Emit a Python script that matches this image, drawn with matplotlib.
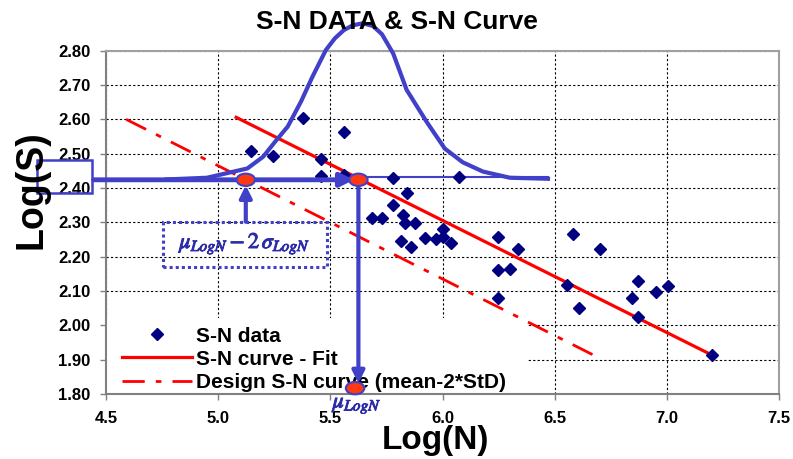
import numpy as np
import matplotlib
matplotlib.use('Agg')
import matplotlib.pyplot as plt
import matplotlib.patheffects as pe
from matplotlib.patches import Rectangle, Ellipse
from matplotlib.lines import Line2D

plt.rcParams['font.family'] = ['Liberation Sans', 'DejaVu Sans']
plt.rcParams['mathtext.fontset'] = 'stix'

# S-N test data (log10 N, log10 S)
data_logN = [5.146, 5.246, 5.38, 5.46, 5.457, 5.562, 5.56, 5.78, 6.075, 5.84,
             5.78, 5.684, 5.73, 5.825, 5.833, 5.877, 5.815, 5.86, 5.922, 5.971,
             6.0, 6.003, 6.038, 6.249, 6.338, 6.58, 6.249, 6.30, 6.554, 6.249,
             6.61, 6.703, 6.87, 6.845, 6.952, 7.007, 6.87, 7.20]
data_logS = [2.508, 2.494, 2.603, 2.484, 2.435, 2.562, 2.437, 2.429, 2.431, 2.386,
             2.352, 2.312, 2.312, 2.321, 2.299, 2.299, 2.247, 2.227, 2.255, 2.251,
             2.28, 2.256, 2.240, 2.256, 2.222, 2.266, 2.161, 2.164, 2.117, 2.079,
             2.051, 2.222, 2.129, 2.079, 2.096, 2.114, 2.023, 1.914]

# fitted and design curves (end points)
fit_logN = [5.08, 7.19]
fit_logS = [2.606, 1.917]
design_logN = [4.59, 6.68]
design_logS = [2.600, 1.911]

# distribution of log N at the reference stress (hand drawn bell)
bell_logN = [4.77, 4.95, 5.05, 5.13, 5.20, 5.26, 5.31, 5.37, 5.42, 5.48, 5.52, 5.56, 5.60,
             5.645, 5.69, 5.73, 5.78, 5.84, 5.93, 6.01, 6.09, 6.18, 6.30, 6.47]
bell_logS = [2.425, 2.430, 2.445, 2.457, 2.491, 2.540, 2.579, 2.653, 2.724, 2.802, 2.836, 2.860,
             2.874, 2.880, 2.872, 2.848, 2.792, 2.686, 2.592, 2.515, 2.475, 2.448, 2.430, 2.427]

ref_logS = 2.424
mu_logN = 5.625
mu_minus_2sd = 5.123

xticks = [4.5, 5.0, 5.5, 6.0, 6.5, 7.0, 7.5]
yticks = [1.8, 1.9, 2.0, 2.1, 2.2, 2.3, 2.4, 2.5, 2.6, 2.7, 2.8]

blue = '#4040C8'
navy = '#000080'
red = '#FF0000'
orange = '#FF3A10'
txt_blue = '#2C2CA8'

fig = plt.figure(figsize=(7.93, 4.59), dpi=100)
ax = fig.add_axes([0.1337, 0.1416, 0.8487, 0.7479])
ax.set_xlim(4.5, 7.5)
ax.set_ylim(1.8, 2.8)
ax.set_xticks(xticks)
ax.set_xticklabels(['%.1f' % v for v in xticks], fontweight='bold')
ax.set_yticks(yticks)
ax.set_yticklabels(['%.2f' % v for v in yticks], fontweight='bold')
ax.tick_params(direction='out', length=4, width=1, color='#808080', labelsize=12)
ax.tick_params(axis='x', pad=8)
ax.tick_params(axis='y', pad=7)
ax.set_axisbelow(True)
ax.grid(True, color='black', linestyle=(0, (2, 2)), linewidth=0.8)
for s in ['left', 'bottom']:
    ax.spines[s].set_color('#808080')
    ax.spines[s].set_linewidth(1.5)
for s in ['top', 'right']:
    ax.spines[s].set_color('#a0a0a0')
    ax.spines[s].set_linewidth(1.5)

# white area behind legend hides the grid
ax.add_patch(Rectangle((0, 0), 0.626, 0.221, transform=ax.transAxes,
                       facecolor='white', edgecolor='none', zorder=1))

ax.plot(design_logN, design_logS, color=red, lw=2, ls=(0, (8, 4, 2, 4)), zorder=2)
ax.plot(fit_logN, fit_logS, color=red, lw=2.3, zorder=2)
ax.plot(bell_logN, bell_logS, color=blue, lw=3, zorder=3, clip_on=False)
ax.plot([mu_logN, bell_logN[-1]], [ref_logS + 0.008, ref_logS + 0.008], color=blue, lw=1.5, zorder=3)
ax.plot(data_logN, data_logS, 'D', color=navy, ms=6, ls='none', zorder=4)

# arrows
ax.annotate('', xy=(mu_logN - 0.02, ref_logS), xytext=(4.445, ref_logS),
            arrowprops=dict(arrowstyle='-|>', color=blue, lw=3.5, mutation_scale=20,
                            shrinkA=0, shrinkB=0),
            annotation_clip=False, zorder=6)
ax.annotate('', xy=(mu_logN, 1.831), xytext=(mu_logN, ref_logS - 0.01),
            arrowprops=dict(arrowstyle='-|>', color=blue, lw=3, mutation_scale=18,
                            shrinkA=0, shrinkB=0),
            annotation_clip=False, zorder=7)
ax.annotate('', xy=(mu_minus_2sd, ref_logS - 0.016), xytext=(mu_minus_2sd, 2.302),
            arrowprops=dict(arrowstyle='-|>', color=blue, lw=3, mutation_scale=18,
                            shrinkA=0, shrinkB=0),
            annotation_clip=False, zorder=6)

for xm, ym in [(mu_logN, ref_logS), (mu_minus_2sd, ref_logS), (mu_logN - 0.015, 1.817)]:
    ax.add_patch(Ellipse((xm, ym), 0.082, 0.036, facecolor=orange, edgecolor=blue,
                         lw=1.5, zorder=8, clip_on=False))

# dotted box with label
heavy = [pe.withStroke(linewidth=0.7, foreground=txt_blue)]
ax.add_patch(Rectangle((4.755, 2.171), 0.729, 0.131, fill=False, edgecolor=blue,
                       ls=(0, (1, 1)), lw=2.2, zorder=6))
ax.text(5.12, 2.236, r'$\mu_{LogN}-2\,\sigma_{LogN}$', color=txt_blue, fontsize=16,
        ha='center', va='center', zorder=7, path_effects=heavy)
ax.text(mu_logN - 0.005, 1.768, r'$\mu_{LogN}$', color=txt_blue, fontsize=16,
        ha='center', va='center', zorder=7, path_effects=heavy)

# box around the reference stress on the axis
ax.add_patch(Rectangle((4.191, 2.386), 0.245, 0.096, fill=False, edgecolor=blue,
                       lw=1.8, clip_on=False, zorder=6))

handles = [Line2D([], [], marker='D', color=navy, ms=6, ls='none'),
           Line2D([], [], color=red, lw=2.3),
           Line2D([], [], color=red, lw=2, ls=(0, (8, 4, 2, 4)))]
labels = ['S-N data', 'S-N curve - Fit', 'Design S-N curve (mean-2*StD)']
leg = ax.legend(handles, labels, loc='lower left', bbox_to_anchor=(0.02, 0.0),
                frameon=False, handlelength=3.4, handletextpad=0.15, labelspacing=0.2,
                prop={'size': 15, 'weight': 'bold'}, borderaxespad=0, borderpad=0.1)
leg.set_zorder(5)

fig.text(0.5, 0.952, 'S-N DATA & S-N Curve', ha='center', va='center',
         fontsize=19, fontweight='bold')
fig.text(435 / 793, 1 - 440 / 459, 'Log(N)', ha='center', va='center',
         fontsize=24, fontweight='bold')
fig.text(31 / 793, 1 - 190 / 459, 'Log(S)', ha='center', va='center', rotation=90,
         fontsize=27, fontweight='bold')

fig.savefig('out.png', dpi=100)
